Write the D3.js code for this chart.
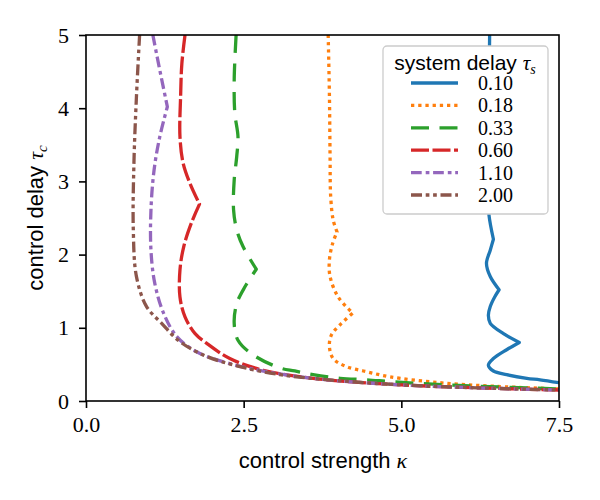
<!DOCTYPE html>
<html>
<head>
<meta charset="utf-8">
<script src="https://cdn.jsdelivr.net/npm/d3@7"></script>
<style>
  body { margin: 0; background: #fff; }
</style>
</head>
<body>
<script>
// system delay tau_s values (legend)
let delays = ["0.10", "0.18", "0.33", "0.60", "1.10", "2.00"];

// stability boundaries, read top (tau_c = 5) to bottom
let kappa010 = [6.40, 6.39, 6.38, 6.38, 6.39, 6.46, 6.41, 6.35, 6.41, 6.55, 6.48, 6.41, 6.38, 6.41, 6.62, 6.87, 6.67, 6.46, 6.38, 6.46, 6.67, 6.99, 7.20, 7.50];
let tau010   = [5.00, 4.20, 3.40, 2.80, 2.54, 2.21, 2.06, 1.88, 1.70, 1.52, 1.42, 1.29, 1.17, 1.06, 0.92, 0.80, 0.70, 0.58, 0.49, 0.41, 0.36, 0.31, 0.29, 0.25];

let kappa018 = [3.84, 3.86, 3.87, 3.88, 3.92, 3.98, 3.91, 3.86, 3.87, 4.00, 4.23, 4.05, 3.89, 3.86, 3.92, 4.13, 4.45, 4.82, 5.61, 6.50, 7.50];
let tau018   = [5.00, 4.16, 3.34, 2.79, 2.47, 2.31, 2.15, 1.93, 1.70, 1.42, 1.20, 1.06, 0.90, 0.74, 0.58, 0.47, 0.40, 0.33, 0.25, 0.20, 0.165];

let kappa033 = [2.38, 2.35, 2.36, 2.41, 2.39, 2.35, 2.34, 2.39, 2.49, 2.70, 2.52, 2.39, 2.35, 2.41, 2.65, 3.08, 3.31, 3.60, 4.03, 4.45, 4.90, 6.00, 7.50];
let tau033   = [5.00, 4.39, 3.93, 3.61, 3.34, 3.02, 2.61, 2.34, 2.11, 1.80, 1.56, 1.33, 1.06, 0.83, 0.63, 0.45, 0.41, 0.36, 0.31, 0.29, 0.26, 0.21, 0.165];

let kappa060 = [1.57, 1.52, 1.50, 1.49, 1.54, 1.65, 1.80, 1.67, 1.55, 1.49, 1.49, 1.57, 1.73, 1.91, 2.28, 2.81, 3.70, 5.00, 6.20, 7.50];
let tau060   = [5.00, 4.61, 4.16, 3.61, 3.25, 2.97, 2.69, 2.43, 2.11, 1.79, 1.42, 1.15, 0.92, 0.79, 0.58, 0.42, 0.30, 0.22, 0.18, 0.15];

let kappa110 = [1.06, 1.17, 1.29, 1.17, 1.08, 1.03, 1.03, 1.09, 1.23, 1.44, 1.76, 2.28, 2.86, 3.70, 5.00, 6.20, 7.50];
let tau110   = [5.00, 4.52, 4.02, 3.61, 3.16, 2.61, 2.06, 1.61, 1.20, 0.88, 0.67, 0.51, 0.40, 0.30, 0.22, 0.18, 0.15];

let kappa200 = [0.85, 0.80, 0.76, 0.75, 0.80, 0.96, 1.20, 1.49, 1.91, 2.44, 3.08, 3.70, 5.00, 6.20, 7.50];
let tau200   = [5.00, 4.16, 3.25, 2.34, 1.70, 1.29, 1.06, 0.81, 0.61, 0.47, 0.36, 0.30, 0.22, 0.18, 0.15];

// indices of the sharp corners in each curve
let kinks = [[5, 9, 15], [5, 10], [9], [6], [2], []];

let xTicks = [0, 2.5, 5, 7.5];
let yTicks = [0, 1, 2, 3, 4, 5];

let kappas = [kappa010, kappa018, kappa033, kappa060, kappa110, kappa200];
let taus = [tau010, tau018, tau033, tau060, tau110, tau200];

let colors = ["#1f77b4", "#ff7f0e", "#2ca02c", "#d62728", "#9467bd", "#8c564b"];
let dashes = ["none", "3.3,3.9", "18,10.5", "18,3.5", "10.7,4,3.7,3.7", "11,3.7,3.7,3.7,3.7,3.7"];

let w = 600;
let h = 500;
let mLeft = 86, mRight = 559, mTop = 35, mBottom = 401;
let serif = "'Liberation Serif', 'DejaVu Serif', serif";
let sans = "'Liberation Sans', 'DejaVu Sans', sans-serif";

let svg = d3.select("body")
            .append("svg")
            .attr("width", w)
            .attr("height", h);

let x = d3.scaleLinear().domain([0, 7.5]).range([mLeft, mRight]);
let y = d3.scaleLinear().domain([0, 5]).range([mBottom, mTop]);

svg.append("clipPath")
    .attr("id", "plotclip")
    .append("rect")
    .attr("x", mLeft)
    .attr("y", mTop)
    .attr("width", mRight - mLeft)
    .attr("height", mBottom - mTop);

let line = d3.line()
            .x(function(d) { return x(d[0]); })
            .y(function(d) { return y(d[1]); })
            .curve(d3.curveCatmullRom.alpha(0.5));

// split at the corners so they stay sharp, but keep one continuous path
function curvePath(i) {
    let pts = kappas[i].map(function(k, j) { return [k, taus[i][j]]; });
    let cuts = [0].concat(kinks[i]).concat([pts.length - 1]);
    let d = "";
    for (let s = 0; s < cuts.length - 1; s++) {
        let part = line(pts.slice(cuts[s], cuts[s + 1] + 1));
        d += s === 0 ? part : part.replace(/^M/, "L");
    }
    return d;
}

svg.append("g")
    .attr("clip-path", "url(#plotclip)")
    .selectAll("path")
    .data(delays)
    .enter()
    .append("path")
    .attr("d", function(d, i) { return curvePath(i); })
    .attr("fill", "none")
    .attr("stroke", function(d, i) { return colors[i]; })
    .attr("stroke-width", 3.3)
    .attr("stroke-dasharray", function(d, i) { return dashes[i]; })
    .attr("stroke-linecap", "butt")
    .attr("stroke-linejoin", "round");

// axes
let xAxis = d3.axisBottom(x)
            .tickValues(xTicks)
            .tickFormat(d3.format(".1f"))
            .tickSizeOuter(0)
            .tickSize(7)
            .tickPadding(8);
let yAxis = d3.axisLeft(y)
            .tickValues(yTicks)
            .tickFormat(d3.format("d"))
            .tickSizeOuter(0)
            .tickSize(7)
            .tickPadding(10);

let gx = svg.append("g")
            .attr("transform", "translate(0," + mBottom + ")")
            .call(xAxis);
let gy = svg.append("g")
            .attr("transform", "translate(" + mLeft + ",0)")
            .call(yAxis);

[gx, gy].forEach(function(g) {
    g.select(".domain").remove();
    g.selectAll(".tick line").attr("stroke", "#000").attr("stroke-width", 1.6);
    g.selectAll(".tick text")
        .attr("font-family", serif)
        .attr("font-size", "22px")
        .attr("fill", "#000");
});

svg.append("rect")
    .attr("x", mLeft)
    .attr("y", mTop)
    .attr("width", mRight - mLeft)
    .attr("height", mBottom - mTop)
    .attr("fill", "none")
    .attr("stroke", "#000")
    .attr("stroke-width", 1.6);

// axis labels
let xl = svg.append("text")
            .attr("x", 323)
            .attr("y", 468)
            .attr("text-anchor", "middle")
            .attr("font-family", sans)
            .attr("font-size", "22px");
xl.append("tspan").text("control strength ");
xl.append("tspan").attr("font-family", serif).attr("font-style", "italic").text("κ");

let yl = svg.append("text")
            .attr("transform", "translate(43," + (mTop + mBottom) / 2 + ") rotate(-90)")
            .attr("text-anchor", "middle")
            .attr("font-family", sans)
            .attr("font-size", "22px");
yl.append("tspan").text("control delay ");
yl.append("tspan").attr("font-family", serif).attr("font-style", "italic").text("τ");
yl.append("tspan").attr("font-family", serif).attr("font-style", "italic")
    .attr("font-size", "15px").attr("dy", 4).text("c");

// legend
let legend = svg.append("g");
legend.append("rect")
    .attr("x", 383)
    .attr("y", 46)
    .attr("width", 165)
    .attr("height", 168)
    .attr("rx", 4)
    .attr("fill", "#fff")
    .attr("stroke", "#cccccc")
    .attr("stroke-width", 1.3);

let lt = legend.append("text")
            .attr("x", 465)
            .attr("y", 70)
            .attr("text-anchor", "middle")
            .attr("font-family", sans)
            .attr("font-size", "21px");
lt.append("tspan").text("system delay ");
lt.append("tspan").attr("font-family", serif).attr("font-style", "italic").text("τ");
lt.append("tspan").attr("font-family", serif).attr("font-style", "italic")
    .attr("font-size", "14px").attr("dy", 4).text("s");

let rows = legend.selectAll("g.row")
            .data(delays)
            .enter()
            .append("g")
            .attr("class", "row")
            .attr("transform", function(d, i) {
                return "translate(0," + (83 + i * 22.4) + ")";
            });

rows.append("line")
    .attr("x1", 411)
    .attr("x2", 458)
    .attr("y1", 0)
    .attr("y2", 0)
    .attr("stroke", function(d, i) { return colors[i]; })
    .attr("stroke-width", 3.3)
    .attr("stroke-dasharray", function(d, i) { return dashes[i]; });

rows.append("text")
    .text(function(d) { return d; })
    .attr("x", 478)
    .attr("y", 7)
    .attr("font-family", serif)
    .attr("font-size", "20px")
    .attr("fill", "#000");
</script>
</body>
</html>
